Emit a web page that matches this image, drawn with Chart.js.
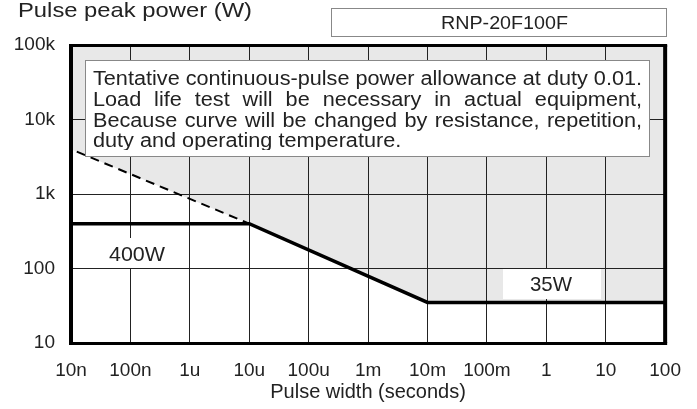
<!DOCTYPE html>
<html lang="en">
<head>
    <meta charset="UTF-8">
    <title>RNP-20F100F pulse power</title>
    <style>
        body {
            margin: 0;
            padding: 0;
            background: #fff;
        }
        .wrap {
            position: relative;
            width: 697px;
            height: 409px;
        }
    </style>
    <script src="https://cdn.jsdelivr.net/npm/chart.js"></script>
</head>
<body>
    <div class="wrap">
        <canvas id="pulseChart"></canvas>
    </div>

    <script>
        // axis ticks (decades)
        const xTicks = [1e-8, 1e-7, 1e-6, 1e-5, 1e-4, 1e-3, 1e-2, 1e-1, 1, 10, 100];
        const xTickLabels = ['10n', '100n', '1u', '10u', '100u', '1m', '10m', '100m', '1', '10', '100'];
        const yTicks = [10, 100, 1000, 10000, 100000];
        const yTickLabels = ['10', '100', '1k', '10k', '100k'];

        // rated curve: 400W flat, slope down, 35W flat
        const ratedWidth = [1e-8, 1e-5, 1e-2, 100];
        const ratedPower = [400, 400, 35, 35];

        // dashed extension of the slope to the left
        const extWidth = [1.25e-8, 1e-5];
        const extPower = [3700, 400];

        // outer boundary of the grey (not allowed) zone
        const zoneWidth = [1e-8, 1e-5, 1e-2, 100];
        const zonePower = [4000, 400, 35, 35];

        const noteLines = [
            'Tentative continuous-pulse power allowance at duty 0.01.',
            'Load life test will be necessary in actual equipment,',
            'Because curve will be changed by resistance, repetition,',
            'duty and operating temperature.'
        ];

        const FONT = '"Liberation Sans", Arial, sans-serif';

        function toPoints(xs, ys) {
            return xs.map((x, i) => ({ x: x, y: ys[i] }));
        }

        // text squeezed/stretched to a given width
        function fitText(ctx, text, x, y, width) {
            const w = ctx.measureText(text).width;
            ctx.save();
            ctx.translate(x, y);
            ctx.scale(width / w, 1);
            ctx.fillText(text, 0, 0);
            ctx.restore();
        }

        function justify(ctx, text, x, y, width) {
            const words = text.split(' ');
            const widths = words.map(w => ctx.measureText(w).width);
            const total = widths.reduce((a, b) => a + b, 0);
            const gap = (width - total) / (words.length - 1);
            let cx = x;
            words.forEach((w, i) => {
                ctx.fillText(w, cx, y);
                cx += widths[i] + gap;
            });
        }

        function labelBox(ctx, text, x0, y0, x1, y1, textX, textW, baseline) {
            ctx.fillStyle = '#fff';
            ctx.fillRect(x0, y0, x1 - x0, y1 - y0);
            ctx.fillStyle = '#222';
            ctx.font = '21px ' + FONT;
            ctx.textAlign = 'left';
            ctx.textBaseline = 'alphabetic';
            fitText(ctx, text, textX, baseline, textW);
        }

        // frame, note box and labels
        const decorations = {
            id: 'decorations',
            afterDatasetsDraw(chart) {
                const ctx = chart.ctx;
                const a = chart.chartArea;
                ctx.save();

                // thick frame
                ctx.strokeStyle = '#000';
                ctx.lineWidth = 4;
                ctx.beginPath();
                ctx.moveTo(a.left, a.top);
                ctx.lineTo(a.left, a.bottom);
                ctx.moveTo(a.right, a.top);
                ctx.lineTo(a.right, a.bottom);
                ctx.stroke();
                ctx.lineWidth = 3;
                ctx.beginPath();
                ctx.moveTo(a.left - 2, a.top + 0.5);
                ctx.lineTo(a.right + 2, a.top + 0.5);
                ctx.moveTo(a.left - 2, a.bottom + 0.5);
                ctx.lineTo(a.right + 2, a.bottom + 0.5);
                ctx.stroke();

                // note box
                ctx.fillStyle = '#fff';
                ctx.fillRect(85, 60, 565, 97);
                ctx.strokeStyle = '#888';
                ctx.lineWidth = 1;
                ctx.strokeRect(85.5, 60.5, 564, 96);

                ctx.font = '20px ' + FONT;
                ctx.fillStyle = '#222';
                ctx.textAlign = 'left';
                ctx.textBaseline = 'alphabetic';
                const sx = 549 / ctx.measureText(noteLines[0]).width;
                ctx.save();
                ctx.beginPath();
                ctx.rect(86, 61, 563, 89);
                ctx.clip();
                ctx.translate(93, 0);
                ctx.scale(sx, 1);
                const w = 549 / sx;
                justify(ctx, noteLines[0], 0, 85, w);
                justify(ctx, noteLines[1], 0, 105.7, w);
                justify(ctx, noteLines[2], 0, 126.5, w);
                ctx.fillText(noteLines[3], 0, 147);
                ctx.restore();

                // rating labels
                labelBox(ctx, '400W', 88, 238, 186, 268, 109, 56, 261);
                labelBox(ctx, '35W', 503, 269, 601, 299, 530, 42, 291);

                ctx.restore();
            },
            afterDraw(chart) {
                const ctx = chart.ctx;
                ctx.save();
                // y axis title, horizontal at the top
                ctx.fillStyle = '#222';
                ctx.font = '21px ' + FONT;
                ctx.textAlign = 'left';
                ctx.textBaseline = 'alphabetic';
                fitText(ctx, 'Pulse peak power (W)', 18, 17, 234);

                // part number box
                ctx.fillStyle = '#fff';
                ctx.fillRect(331, 8, 336, 29);
                ctx.strokeStyle = '#888';
                ctx.lineWidth = 1;
                ctx.strokeRect(331.5, 8.5, 335, 28);
                ctx.fillStyle = '#222';
                ctx.font = '18px ' + FONT;
                fitText(ctx, 'RNP-20F100F', 441, 28.5, 127);
                ctx.restore();
            }
        };

        const ctx = document.getElementById('pulseChart').getContext('2d');

        const pulseChart = new Chart(ctx, {
            type: 'scatter',
            data: {
                datasets: [{
                    label: 'zone',
                    data: toPoints(zoneWidth, zonePower),
                    showLine: true,
                    borderWidth: 0,
                    borderColor: 'rgba(0,0,0,0)',
                    backgroundColor: '#e8e8e8',
                    pointRadius: 0,
                    fill: 'end'
                }, {
                    label: 'extension',
                    data: toPoints(extWidth, extPower),
                    showLine: true,
                    borderColor: '#000',
                    borderWidth: 2,
                    borderDash: [9, 6],
                    pointRadius: 0,
                    fill: false
                }, {
                    label: 'rated',
                    data: toPoints(ratedWidth, ratedPower),
                    showLine: true,
                    borderColor: '#000',
                    borderWidth: 3.5,
                    pointRadius: 0,
                    fill: false
                }]
            },
            options: {
                responsive: true,
                maintainAspectRatio: false,
                animation: false,
                layout: {
                    padding: { top: 45, right: 30, left: 0, bottom: 0 }
                },
                plugins: {
                    legend: { display: false },
                    tooltip: { enabled: false },
                    filler: { drawTime: 'beforeDraw' }
                },
                scales: {
                    x: {
                        type: 'logarithmic',
                        min: 1e-8,
                        max: 100,
                        afterBuildTicks: scale => {
                            scale.ticks = xTicks.map(v => ({ value: v }));
                        },
                        afterFit: scale => {
                            scale.height = 66;
                        },
                        ticks: {
                            callback: (value, index) => xTickLabels[index],
                            autoSkip: false,
                            maxRotation: 0,
                            padding: 16,
                            color: '#222',
                            font: { family: FONT, size: 19 }
                        },
                        grid: {
                            color: '#222',
                            lineWidth: 1,
                            drawTicks: false
                        },
                        border: { display: false },
                        title: {
                            display: true,
                            text: 'Pulse width (seconds)',
                            color: '#222',
                            font: { family: FONT, size: 20 },
                            padding: { top: 0, bottom: 5 }
                        }
                    },
                    y: {
                        type: 'logarithmic',
                        min: 10,
                        max: 100000,
                        afterBuildTicks: scale => {
                            scale.ticks = yTicks.map(v => ({ value: v }));
                        },
                        afterFit: scale => {
                            scale.width = 71;
                        },
                        ticks: {
                            callback: (value, index) => yTickLabels[index],
                            padding: 16,
                            color: '#222',
                            font: { family: FONT, size: 19 }
                        },
                        grid: {
                            color: '#222',
                            lineWidth: 1,
                            drawTicks: false
                        },
                        border: { display: false }
                    }
                }
            },
            plugins: [decorations]
        });
    </script>
</body>
</html>
